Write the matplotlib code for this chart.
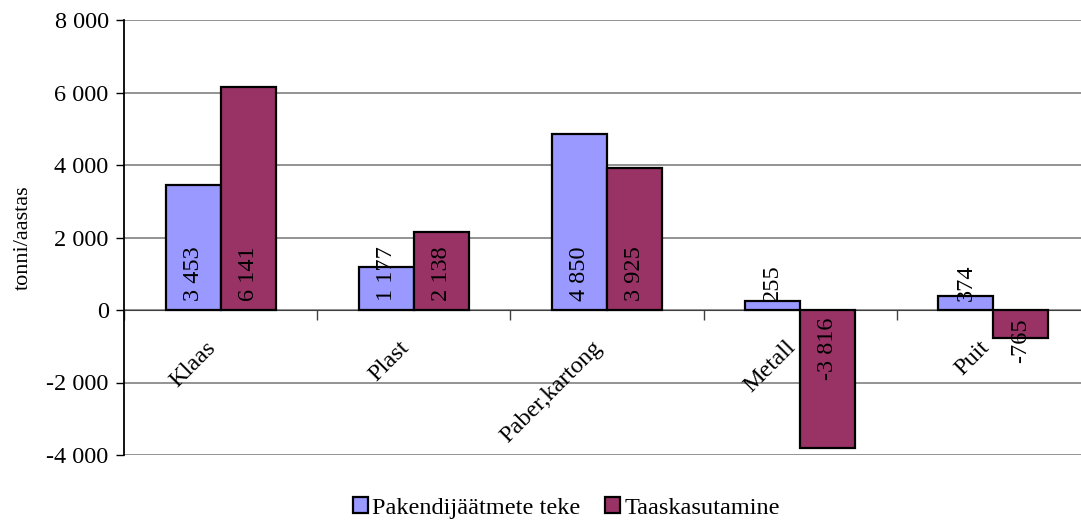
import matplotlib
matplotlib.use("Agg")
from matplotlib import pyplot as plt
from matplotlib.ticker import FuncFormatter
import numpy as np

# Data
categories = ["Klaas", "Plast", "Paber,kartong", "Metall", "Puit"]
teke = [3453, 1177, 4850, 255, 374]
taaskasutamine = [6141, 2138, 3925, -3816, -765]
series_names = ["Pakendijäätmete teke", "Taaskasutamine"]

BLUE = "#9999FF"
RED = "#993366"

plt.rcParams["font.family"] = ["Liberation Serif", "DejaVu Serif"]

W, H = 1081, 523
fig = plt.figure(figsize=(W / 100, H / 100), dpi=100)
# Axes placed in pixels: left 124, top 20, bottom 455, right 1090 (past the edge)
left, top, bottom, right = 124, 20, 455, 1090
ax = fig.add_axes([left / W, 1 - bottom / H, (right - left) / W, (bottom - top) / H])

x = np.arange(len(categories))
bw = 0.285
b1 = ax.bar(x - bw / 2, teke, bw, color=BLUE, edgecolor="black", linewidth=1.6, zorder=3,
            label=series_names[0])
b2 = ax.bar(x + bw / 2, taaskasutamine, bw, color=RED, edgecolor="black", linewidth=1.6, zorder=3,
            label=series_names[1])

ax.set_xlim(-0.5, len(categories) - 0.5)
ax.set_ylim(-4000, 8000)
ax.set_yticks(range(-4000, 8001, 2000))
ax.yaxis.set_major_formatter(FuncFormatter(lambda v, p: f"{int(v):,}".replace(",", " ")))
ax.tick_params(axis="y", labelsize=17.5, length=6, width=1, direction="out", pad=5)
ax.yaxis.grid(True, color="#808080", linewidth=1.2, zorder=0)
ax.set_axisbelow(True)

# x axis sits on the zero line, ticks at category boundaries
ax.spines["bottom"].set_position(("data", 0))
ax.spines["bottom"].set_color("#404040")
ax.spines["bottom"].set_zorder(2)
ax.spines["top"].set_visible(False)
ax.spines["right"].set_visible(False)
ax.spines["left"].set_linewidth(1.3)
ax.set_xticks(np.arange(-0.5, len(categories), 1.0))
ax.set_xticklabels([])
ax.tick_params(axis="x", length=7, width=1, direction="out", color="#404040")

ax.set_ylabel("tonni/aastas", fontsize=16, labelpad=10)

# category labels, rotated, ending just below the zero line
for i, name in enumerate(categories):
    ax.annotate(name, xy=(i, 0), xytext=(-15, -27), textcoords="offset pixels",
                rotation=45, ha="right", va="top", rotation_mode="anchor", fontsize=17.5)

# value labels inside the bars, near the base
for bars, vals in ((b1, teke), (b2, taaskasutamine)):
    for rect, v in zip(bars, vals):
        cx = rect.get_x() + rect.get_width() / 2
        txt = f"{v:,}".replace(",", " ")
        if v >= 0:
            ax.annotate(txt, xy=(cx, 0), xytext=(0, 9), textcoords="offset pixels",
                        rotation=90, ha="center", va="bottom", fontsize=17.5, zorder=4)
        else:
            ax.annotate(txt, xy=(cx, 0), xytext=(0, -8), textcoords="offset pixels",
                        rotation=90, ha="center", va="top", fontsize=17.5, zorder=4)

fig.legend(handles=[b1, b2], labels=series_names, loc="center",
           bbox_to_anchor=(0.524, 1 - 508 / H), ncol=2, frameon=False, fontsize=17.5,
           handlelength=0.6, handleheight=0.6, handletextpad=0.2, columnspacing=1.0)

fig.savefig("out.png", dpi=100)
